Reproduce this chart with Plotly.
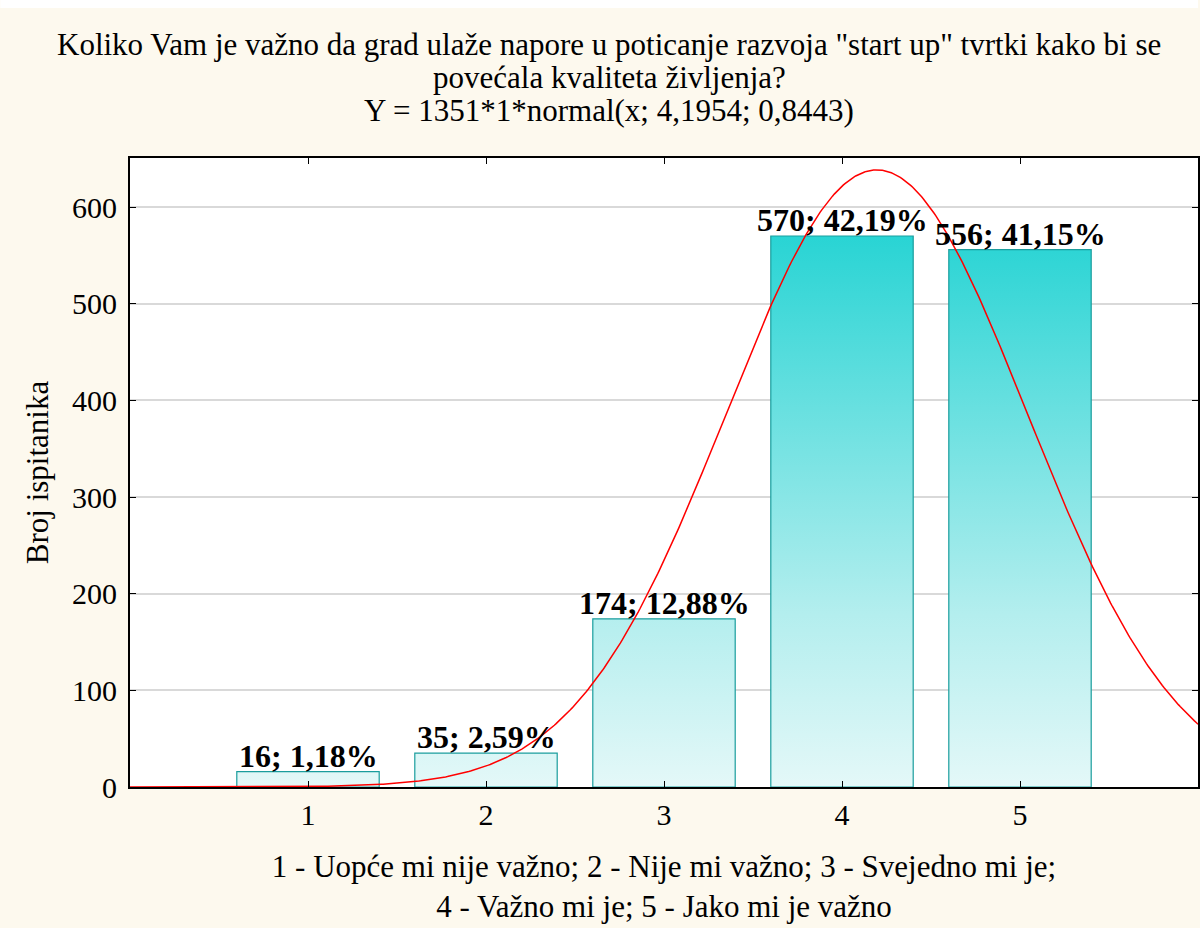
import numpy as np
import plotly.graph_objects as go

categories = [1, 2, 3, 4, 5]
counts = [16, 35, 174, 570, 556]
percents = ["1,18%", "2,59%", "12,88%", "42,19%", "41,15%"]
tick_labels = ["1", "2", "3", "4", "5"]
n_total = 1351
mu = 4.1954
sigma = 0.8443
bar_width = 0.8

title_lines = [
    'Koliko Vam je važno da grad ulaže napore u poticanje razvoja "start up" tvrtki kako bi se',
    'povećala kvaliteta življenja?',
    'Y = 1351*1*normal(x; 4,1954; 0,8443)',
]
xtitle = "1 - Uopće mi nije važno; 2 - Nije mi važno; 3 - Svejedno mi je;<br>4 - Važno mi je; 5 - Jako mi je važno"
ytitle = "Broj ispitanika"

FONT = "Liberation Serif, Times New Roman, serif"
CREAM = "#fdf9ee"
EDGE = "#1a9d9d"

fig = go.Figure()

# gradient-filled bars
for c, v in zip(categories, counts):
    x0, x1 = c - bar_width / 2, c + bar_width / 2
    fig.add_trace(go.Scatter(
        x=[x0, x1, x1, x0, x0], y=[0, 0, v, v, 0],
        mode="lines", fill="toself",
        line=dict(color=EDGE, width=1.2),
        fillgradient=dict(type="vertical", start=0, stop=600,
                          colorscale=[[0, "#e4f8f8"], [0.3, "#b3eeee"], [1, "#1ed2d2"]]),
        hoverinfo="skip", showlegend=False,
    ))

# fitted normal curve
xs = np.linspace(0, 6, 600)
ys = n_total * 1 * np.exp(-0.5 * ((xs - mu) / sigma) ** 2) / (sigma * np.sqrt(2 * np.pi))
fig.add_trace(go.Scatter(x=xs, y=ys, mode="lines", line=dict(color="#ff0000", width=1.5),
                         hoverinfo="skip", showlegend=False))

# bar labels
for c, v, p in zip(categories, counts, percents):
    fig.add_annotation(x=c, y=v, text=f"<b>{v}; {p}</b>", showarrow=False,
                       yanchor="bottom", yshift=-4, font=dict(family=FONT, size=32, color="black"))

# title lines
title_y = [44, 78, 111]
for t, py in zip(title_lines, title_y):
    fig.add_annotation(xref="paper", yref="paper", x=(610 - 130) / 1070,
                       y=1 + (158 - py) / 629,
                       text=t, showarrow=False, xanchor="center", yanchor="middle",
                       font=dict(family=FONT, size=31, color="black"))

# top white strip
fig.add_shape(type="rect", xref="paper", yref="paper", x0=-130 / 1070, x1=1.0,
              y0=1 + (158 - 8) / 629, y1=1 + 158 / 629 + 0.01, fillcolor="white",
              line=dict(width=0), layer="below")

fig.update_layout(
    width=1200, height=928,
    margin=dict(l=130, r=0, t=158, b=141),
    paper_bgcolor=CREAM, plot_bgcolor="white",
    font=dict(family=FONT, size=30, color="black"),
    showlegend=False,
    xaxis=dict(range=[0, 6], tickvals=categories, ticktext=tick_labels,
               ticks="inside", ticklen=6, tickcolor="black", mirror="ticks",
               showline=True, linecolor="black", linewidth=2, showgrid=False, zeroline=False,
               title=dict(text=xtitle, font=dict(family=FONT, size=31), standoff=25),
               tickfont=dict(family=FONT, size=30)),
    yaxis=dict(range=[0, 650.7], dtick=100, ticks="inside", ticklen=6, tickcolor="black",
               mirror="ticks", showline=True, linecolor="black", linewidth=2,
               showgrid=True, gridcolor="#d9d9d9", gridwidth=1.5, zeroline=False,
               ticklabelstandoff=5,
               title=dict(text=ytitle, font=dict(family=FONT, size=31), standoff=14),
               tickfont=dict(family=FONT, size=30)),
)

fig.write_html("out.html", config={"displayModeBar": False},
               post_script="document.body.style.margin='0';")
